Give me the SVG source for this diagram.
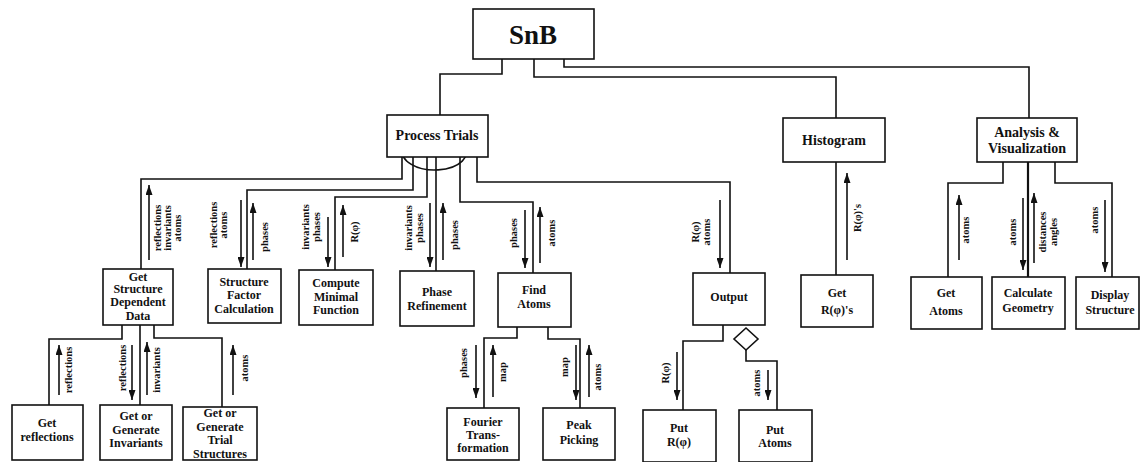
<svg xmlns="http://www.w3.org/2000/svg" width="1140" height="462" viewBox="0 0 1140 462">
<style>
.bx{fill:#fff;stroke:#111;stroke-width:1.6}
.t{font-family:"Liberation Serif","Times New Roman",serif;font-weight:bold;font-size:12px;fill:#111;text-anchor:middle}
.lb{font-family:"Liberation Serif","Times New Roman",serif;font-weight:bold;font-size:10.5px;fill:#111;text-anchor:middle}
.cn{fill:none;stroke:#111;stroke-width:1.6}
.ar{fill:none;stroke:#111;stroke-width:1.6;marker-end:url(#ah)}
</style>
<defs>
<marker id="ah" viewBox="0 0 10 7" refX="10" refY="3.5" markerWidth="10" markerHeight="7" markerUnits="userSpaceOnUse" orient="auto"><path d="M0,0 L10,3.5 L0,7 z" fill="#111"/></marker>
</defs>
<rect width="1140" height="462" fill="#fff"/>

<g id="connectors">
<path class="cn" d="M502,59 V74 H440 V115"/>
<path class="cn" d="M534,59 V77 H836 V118"/>
<path class="cn" d="M564,59 V67 H1029 V118"/>
<path class="cn" d="M402,157 V179 H141 V269"/>
<path class="cn" d="M413,157 V190 H247 V269"/>
<path class="cn" d="M427,157 V197 H335 V270"/>
<path class="cn" d="M436,157 V271"/>
<path class="cn" d="M460,157 V202 H533 V273"/>
<path class="cn" d="M477,157 V182 H730 V273"/>
<path class="cn" d="M836,162 V275"/>
<path class="cn" d="M1003,162 V183 H948 V277"/>
<path class="cn" d="M1028,162 V277" style="stroke-width:2.2"/>
<path class="cn" d="M1055,162 V183 H1112 V277"/>
<path class="cn" d="M122,325 V339 H49 V405"/>
<path class="cn" d="M140,325 V405"/>
<path class="cn" d="M154,325 V338 H222 V407"/>
<path class="cn" d="M517,327 V338 H484 V408"/>
<path class="cn" d="M548,327 V339 H580 V408"/>
<path class="cn" d="M723,325 V341 H683 V410"/>
<path class="cn" d="M746,350 V361 H777 V410"/>
<polygon points="746,328 758,339 746,350 734,339" fill="#fff" stroke="#111" stroke-width="1.6"/>
<path class="ar" d="M403,149 A32 18 0 1 0 464,145"/>

<path class="ar" d="M149,260 V185"/>
<path class="ar" d="M241,200 V267"/>
<path class="ar" d="M253,260 V203"/>
<path class="ar" d="M328,217 V267"/>
<path class="ar" d="M343,257 V205"/>
<path class="ar" d="M430,203 V267"/>
<path class="ar" d="M443,260 V203"/>
<path class="ar" d="M525,210 V268"/>
<path class="ar" d="M540,263 V207"/>
<path class="ar" d="M720,200 V268"/>
<path class="ar" d="M847,260 V173"/>
<path class="ar" d="M959,260 V195"/>
<path class="ar" d="M1023,198 V270"/>
<path class="ar" d="M1034,263 V193"/>
<path class="ar" d="M1105,200 V272"/>
<path class="ar" d="M59,395 V345"/>
<path class="ar" d="M132,345 V400"/>
<path class="ar" d="M147,395 V342"/>
<path class="ar" d="M233,395 V345"/>
<path class="ar" d="M476,345 V398"/>
<path class="ar" d="M493,397 V345"/>
<path class="ar" d="M576,345 V400"/>
<path class="ar" d="M589,397 V345"/>
<path class="ar" d="M677,352 V400"/>
<path class="ar" d="M768,370 V400"/>

<text class="lb" transform="translate(161,228) rotate(-90)">reflections</text>
<text class="lb" transform="translate(171,228) rotate(-90)">invariants</text>
<text class="lb" transform="translate(181,228) rotate(-90)">atoms</text>
<text class="lb" transform="translate(217,225) rotate(-90)">reflections</text>
<text class="lb" transform="translate(227,225) rotate(-90)">atoms</text>
<text class="lb" transform="translate(268,237) rotate(-90)">phases</text>
<text class="lb" transform="translate(309,227) rotate(-90)">invariants</text>
<text class="lb" transform="translate(320,227) rotate(-90)">phases</text>
<text class="lb" transform="translate(358,232) rotate(-90)">R(φ)</text>
<text class="lb" transform="translate(412,228) rotate(-90)">invariants</text>
<text class="lb" transform="translate(423,228) rotate(-90)">phases</text>
<text class="lb" transform="translate(458,235) rotate(-90)">phases</text>
<text class="lb" transform="translate(517,233) rotate(-90)">phases</text>
<text class="lb" transform="translate(555,233) rotate(-90)">atoms</text>
<text class="lb" transform="translate(699,232) rotate(-90)">R(φ)</text>
<text class="lb" transform="translate(710,232) rotate(-90)">atoms</text>
<text class="lb" transform="translate(861,218) rotate(-90)">R(φ)'s</text>
<text class="lb" transform="translate(969,230) rotate(-90)">atoms</text>
<text class="lb" transform="translate(1016,232) rotate(-90)">atoms</text>
<text class="lb" transform="translate(1046,232) rotate(-90)">distances</text>
<text class="lb" transform="translate(1057,232) rotate(-90)">angles</text>
<text class="lb" transform="translate(1098,220) rotate(-90)">atoms</text>
<text class="lb" transform="translate(72,370) rotate(-90)">reflections</text>
<text class="lb" transform="translate(126,368) rotate(-90)">reflections</text>
<text class="lb" transform="translate(160,370) rotate(-90)">invariants</text>
<text class="lb" transform="translate(248,368) rotate(-90)">atoms</text>
<text class="lb" transform="translate(467,363) rotate(-90)">phases</text>
<text class="lb" transform="translate(506,372) rotate(-90)">map</text>
<text class="lb" transform="translate(568,367) rotate(-90)">map</text>
<text class="lb" transform="translate(601,377) rotate(-90)">atoms</text>
<text class="lb" transform="translate(669,373) rotate(-90)">R(φ)</text>
<text class="lb" transform="translate(760,383) rotate(-90)">atoms</text>
</g>

<g id="snb"><rect class="bx" x="473" y="9" width="121" height="50"/><text class="t" x="533" y="44" style="font-size:27px">SnB</text></g>
<g id="process-trials"><rect class="bx" x="387" y="115" width="101" height="42"/><text class="t" x="437" y="140" style="font-size:14px">Process Trials</text></g>
<g id="histogram"><rect class="bx" x="783" y="118" width="102" height="44"/><text class="t" x="834" y="145" style="font-size:14px">Histogram</text></g>
<g id="analysis"><rect class="bx" x="977" y="118" width="100" height="44"/><text class="t" x="1027" y="137" style="font-size:14px">Analysis &amp;</text><text class="t" x="1027" y="153" style="font-size:14px">Visualization</text></g>

<g id="get-structure"><rect class="bx" x="103" y="269" width="70" height="56"/><text class="t" x="138" y="281">Get</text><text class="t" x="138" y="293">Structure</text><text class="t" x="138" y="306">Dependent</text><text class="t" x="138" y="320">Data</text></g>
<g id="structure-factor"><rect class="bx" x="208" y="269" width="73" height="54"/><text class="t" x="244" y="286">Structure</text><text class="t" x="244" y="299">Factor</text><text class="t" x="244" y="313">Calculation</text></g>
<g id="compute-minimal"><rect class="bx" x="299" y="270" width="74" height="55"/><text class="t" x="336" y="287">Compute</text><text class="t" x="336" y="301">Minimal</text><text class="t" x="336" y="314">Function</text></g>
<g id="phase-refinement"><rect class="bx" x="400" y="271" width="74" height="55"/><text class="t" x="437" y="296">Phase</text><text class="t" x="437" y="310">Refinement</text></g>
<g id="find-atoms"><rect class="bx" x="498" y="273" width="73" height="54"/><text class="t" x="534" y="294">Find</text><text class="t" x="534" y="308">Atoms</text></g>
<g id="output"><rect class="bx" x="693" y="273" width="72" height="52"/><text class="t" x="729" y="301">Output</text></g>
<g id="get-r"><rect class="bx" x="801" y="275" width="72" height="52"/><text class="t" x="837" y="297">Get</text><text class="t" x="837" y="314">R(φ)'s</text></g>
<g id="get-atoms"><rect class="bx" x="911" y="277" width="71" height="52"/><text class="t" x="946" y="297">Get</text><text class="t" x="946" y="315">Atoms</text></g>
<g id="calc-geometry"><rect class="bx" x="992" y="277" width="73" height="52"/><text class="t" x="1028" y="297">Calculate</text><text class="t" x="1028" y="312">Geometry</text></g>
<g id="display-structure"><rect class="bx" x="1076" y="277" width="63" height="52"/><text class="t" x="1110" y="299">Display</text><text class="t" x="1110" y="314">Structure</text></g>

<g id="get-reflections"><rect class="bx" x="12" y="405" width="71" height="55"/><text class="t" x="47" y="427">Get</text><text class="t" x="47" y="441">reflections</text></g>
<g id="get-invariants"><rect class="bx" x="100" y="405" width="72" height="55"/><text class="t" x="136" y="420">Get  or</text><text class="t" x="136" y="434">Generate</text><text class="t" x="136" y="447">Invariants</text></g>
<g id="get-trial"><rect class="bx" x="183" y="407" width="74" height="53"/><text class="t" x="220" y="417">Get or</text><text class="t" x="220" y="431">Generate</text><text class="t" x="220" y="444">Trial</text><text class="t" x="220" y="458">Structures</text></g>
<g id="fourier"><rect class="bx" x="447" y="408" width="72" height="52"/><text class="t" x="483" y="426">Fourier</text><text class="t" x="483" y="439">Trans-</text><text class="t" x="483" y="452">formation</text></g>
<g id="peak-picking"><rect class="bx" x="543" y="408" width="72" height="52"/><text class="t" x="579" y="429">Peak</text><text class="t" x="579" y="444">Picking</text></g>
<g id="put-r"><rect class="bx" x="643" y="410" width="73" height="52"/><text class="t" x="679" y="432">Put</text><text class="t" x="679" y="446">R(φ)</text></g>
<g id="put-atoms"><rect class="bx" x="739" y="410" width="73" height="52"/><text class="t" x="775" y="434">Put</text><text class="t" x="775" y="447">Atoms</text></g>
</svg>
